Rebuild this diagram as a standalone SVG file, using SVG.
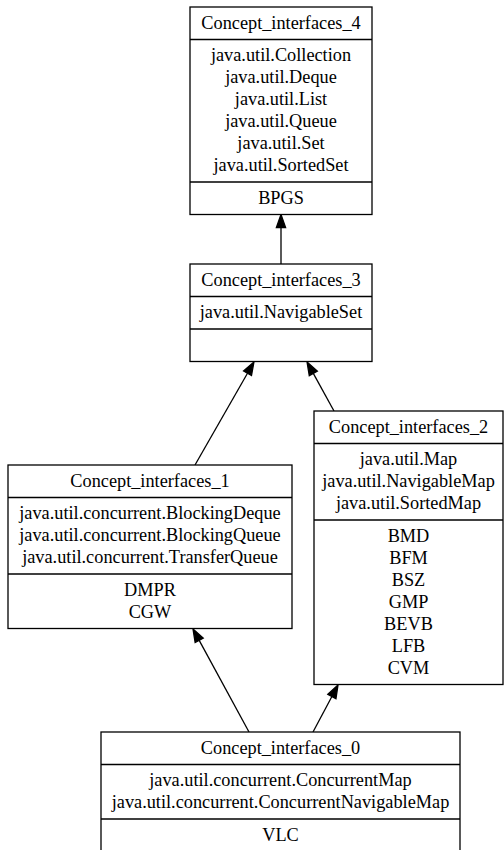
<svg xmlns="http://www.w3.org/2000/svg" width="504" height="850" viewBox="0 0 504 850">
<style>
.box{fill:#fff;stroke:#000;stroke-width:1.3}
.sep{stroke:#000;stroke-width:1.3}
.t{font-family:"Liberation Serif","Times New Roman",serif;font-size:18.3px;fill:#000;text-anchor:middle}
.edge{stroke:#000;stroke-width:1.3;fill:none}
</style>
<defs>
<marker id="arr" markerUnits="userSpaceOnUse" markerWidth="14" markerHeight="12" refX="0" refY="5" orient="auto" overflow="visible">
<path d="M0,0.4 L13,5 L0,9.6 z" fill="#000" stroke="#000" stroke-width="1.3"/>
</marker>
</defs>
<rect width="504" height="850" fill="#fff"/>
<g id="connectors">
<line class="edge" x1="281" y1="264" x2="281" y2="227.5" marker-end="url(#arr)"/>
<line class="edge" x1="195" y1="465" x2="247.5" y2="373.3" marker-end="url(#arr)"/>
<line class="edge" x1="334" y1="411" x2="313.3" y2="373.4" marker-end="url(#arr)"/>
<line class="edge" x1="249" y1="732" x2="199.2" y2="640.4" marker-end="url(#arr)"/>
<line class="edge" x1="313" y1="732" x2="331.9" y2="696.5" marker-end="url(#arr)"/>
</g>
<g id="Concept_interfaces_4">
<rect class="box" x="190" y="7" width="182" height="207.5"/>
<line class="sep" x1="190" y1="39.5" x2="372" y2="39.5"/>
<line class="sep" x1="190" y1="182" x2="372" y2="182"/>
<text class="t" x="281" y="28.8">Concept_interfaces_4</text>
<text class="t" x="281" y="61.25">java.util.Collection</text>
<text class="t" x="281" y="83.25">java.util.Deque</text>
<text class="t" x="281" y="105.25">java.util.List</text>
<text class="t" x="281" y="127.25">java.util.Queue</text>
<text class="t" x="281" y="149.25">java.util.Set</text>
<text class="t" x="281" y="171.25">java.util.SortedSet</text>
<text class="t" x="281" y="203.75">BPGS</text>
</g>
<g id="Concept_interfaces_3">
<rect class="box" x="190" y="264" width="182" height="97.5"/>
<line class="sep" x1="190" y1="296.5" x2="372" y2="296.5"/>
<line class="sep" x1="190" y1="329" x2="372" y2="329"/>
<text class="t" x="281" y="285.75">Concept_interfaces_3</text>
<text class="t" x="281" y="318.25">java.util.NavigableSet</text>
</g>
<g id="Concept_interfaces_2">
<rect class="box" x="314" y="411" width="189" height="273.5"/>
<line class="sep" x1="314" y1="443.5" x2="503" y2="443.5"/>
<line class="sep" x1="314" y1="520" x2="503" y2="520"/>
<text class="t" x="408.5" y="432.75">Concept_interfaces_2</text>
<text class="t" x="408.5" y="465.25">java.util.Map</text>
<text class="t" x="408.5" y="487.25">java.util.NavigableMap</text>
<text class="t" x="408.5" y="509.25">java.util.SortedMap</text>
<text class="t" x="408.5" y="541.75">BMD</text>
<text class="t" x="408.5" y="563.75">BFM</text>
<text class="t" x="408.5" y="585.75">BSZ</text>
<text class="t" x="408.5" y="607.75">GMP</text>
<text class="t" x="408.5" y="629.75">BEVB</text>
<text class="t" x="408.5" y="651.75">LFB</text>
<text class="t" x="408.5" y="673.75">CVM</text>
</g>
<g id="Concept_interfaces_1">
<rect class="box" x="8" y="465" width="284" height="163.5"/>
<line class="sep" x1="8" y1="497.5" x2="292" y2="497.5"/>
<line class="sep" x1="8" y1="574" x2="292" y2="574"/>
<text class="t" x="150" y="486.75">Concept_interfaces_1</text>
<text class="t" x="150" y="519.25">java.util.concurrent.BlockingDeque</text>
<text class="t" x="150" y="541.25">java.util.concurrent.BlockingQueue</text>
<text class="t" x="150" y="563.25">java.util.concurrent.TransferQueue</text>
<text class="t" x="150" y="595.75">DMPR</text>
<text class="t" x="150" y="617.75">CGW</text>
</g>
<g id="Concept_interfaces_0">
<rect class="box" x="101" y="732" width="359" height="119.5"/>
<line class="sep" x1="101" y1="764.5" x2="460" y2="764.5"/>
<line class="sep" x1="101" y1="819" x2="460" y2="819"/>
<text class="t" x="280.5" y="753.75">Concept_interfaces_0</text>
<text class="t" x="280.5" y="786.25">java.util.concurrent.ConcurrentMap</text>
<text class="t" x="280.5" y="808.25">java.util.concurrent.ConcurrentNavigableMap</text>
<text class="t" x="280.5" y="840.75">VLC</text>
</g>
</svg>
